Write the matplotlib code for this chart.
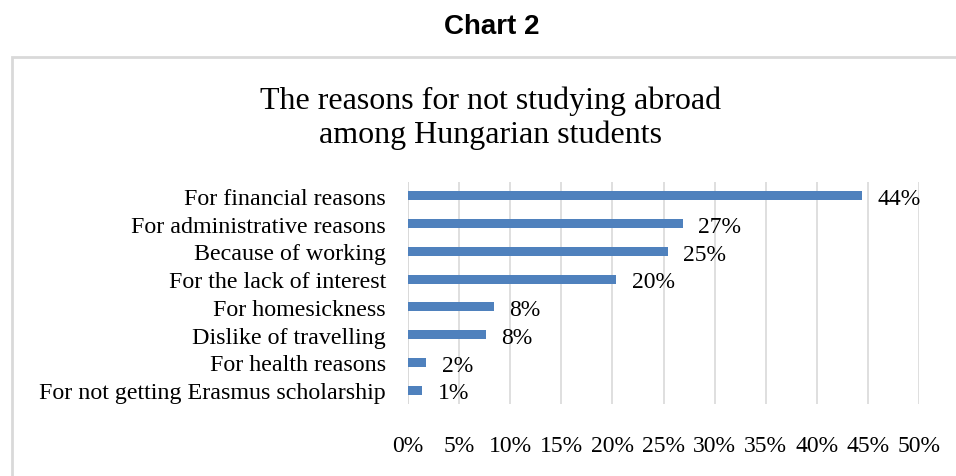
import matplotlib
matplotlib.use("Agg")
import matplotlib.pyplot as plt
from matplotlib.patches import Rectangle

categories = [
    "For financial reasons",
    "For administrative reasons",
    "Because of working",
    "For the lack of interest",
    "For homesickness",
    "Dislike of travelling",
    "For health reasons",
    "For not getting Erasmus scholarship",
]
values = [44.4, 26.9, 25.4, 20.4, 8.4, 7.6, 1.8, 1.4]
value_labels = ["44%", "27%", "25%", "20%", "8%", "8%", "2%", "1%"]
xticks = [0, 5, 10, 15, 20, 25, 30, 35, 40, 45, 50]
xtick_labels = [f"{t}%" for t in xticks]

serif = ["Liberation Serif", "DejaVu Serif"]

fig = plt.figure(figsize=(9.56, 4.77), dpi=100)
fig.patch.set_facecolor("white")

# outer light frame (cut off at right and bottom)
fig.patches.append(Rectangle((12 / 956, -0.1), 1.2, 1 - 58 / 477 + 0.1,
                             transform=fig.transFigure, fill=False,
                             edgecolor="#d9d9d9", linewidth=2))

fig.text(492 / 956, 1 - 27 / 477, "Chart 2", ha="center", va="center",
         fontsize=20, fontweight="bold",
         family=["Liberation Sans", "DejaVu Sans"])
fig.text(491 / 956, 1 - 118 / 477,
         "The reasons for not studying abroad\namong Hungarian students",
         ha="center", va="center", fontsize=23, family=serif,
         linespacing=1.22)

ax = fig.add_axes([408 / 956, 1 - 405 / 477, (919 - 408) / 956, (405 - 183) / 477])
y = list(range(len(categories)))
ax.barh(y, values, height=0.32, color="#4F81BD", zorder=3)
ax.set_ylim(len(categories) - 0.5, -0.5)
ax.set_xlim(0, 50)
ax.set_xticks(xticks)
ax.set_xticklabels(xtick_labels, family=serif, fontsize=17)
ax.set_yticks(y)
ax.set_yticklabels(categories, family=serif, fontsize=17.3)
ax.tick_params(axis="x", length=0, pad=22)
ax.tick_params(axis="y", length=0, pad=16)
ax.grid(axis="x", color="#d9d9d9", linewidth=1.2, zorder=0)
for s in ax.spines.values():
    s.set_visible(False)
ax.axvline(0, color="#d9d9d9", linewidth=1.2, zorder=1)

for yi, v, lab in zip(y, values, value_labels):
    ax.annotate(lab, (v, yi), xytext=(11, -2), textcoords="offset points",
                ha="left", va="center", family=serif, fontsize=17)

fig.savefig("out.png", dpi=100)
